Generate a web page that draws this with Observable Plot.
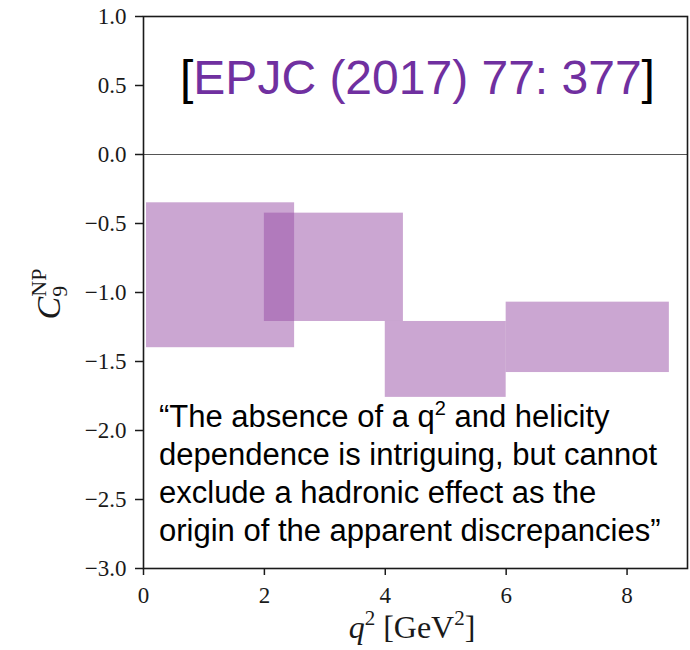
<!DOCTYPE html>
<html>
<head>
<meta charset="utf-8">
<script src="https://cdn.jsdelivr.net/npm/d3@7"></script>
<script src="https://cdn.jsdelivr.net/npm/@observablehq/plot@0.6"></script>
<style>
  body { margin: 0; background: #fff; }
  #chart svg { display: block; }
</style>
</head>
<body>
<div id="chart"></div>
<script>
// q² bins (GeV²) and the allowed C9^NP band in each bin
const binLow  = [0.05, 2.0, 4.0, 6.0];
const binHigh = [2.5, 4.3, 6.0, 8.7];
const c9Low   = [-1.40, -1.21, -1.76, -1.58];
const c9High  = [-0.35, -0.425, -1.21, -1.07];

// axis ticks
const xTicks = [0, 2, 4, 6, 8];
const yTicks = [-3, -2.5, -2, -1.5, -1, -0.5, 0, 0.5, 1];

// annotation text
const refText = "EPJC (2017) 77: 377";
const quoteLines = [
  "dependence is intriguing, but cannot",
  "exclude a hadronic effect as the",
  "origin of the apparent discrepancies\u201D"
];

const bins = binLow.map((lo, i) => ({lo, hi: binHigh[i], c9lo: c9Low[i], c9hi: c9High[i]}));

const chart = Plot.plot({
  width: 690,
  height: 650,
  marginLeft: 143,
  marginRight: 3,
  marginTop: 16,
  marginBottom: 82,
  x: {domain: [0, 9]},
  y: {domain: [-3, 1]},
  style: {fontFamily: "'Liberation Serif', 'DejaVu Serif', serif", fontSize: "23px", color: "#1a1a1a", background: "#fff"},
  marks: [
    Plot.rect(bins, {x1: "lo", x2: "hi", y1: "c9lo", y2: "c9hi", fill: "#974da5", fillOpacity: 0.5}),
    Plot.ruleY([0], {stroke: "#555", strokeWidth: 1}),
    Plot.frame({stroke: "#1a1a1a", strokeWidth: 1.6}),
    Plot.axisX({ticks: xTicks, tickSize: 7, tickPadding: 11, tickFormat: d3.format("d"), label: null, strokeWidth: 1.5}),
    Plot.axisY({ticks: yTicks, tickSize: 8, tickPadding: 9, tickFormat: d3.format(".1f"), label: null, strokeWidth: 1.5})
  ]
});

document.getElementById("chart").append(chart);

const svg = d3.select(chart);
const sans = "'Liberation Sans', Arial, sans-serif";
const serif = "'Liberation Serif', 'DejaVu Serif', serif";

// reference tag
const ref = svg.append("text")
  .attr("x", 180).attr("y", 94)
  .attr("text-anchor", "start")
  .attr("font-family", sans).attr("font-size", 48).attr("fill", "#000");
ref.append("tspan").text("[");
ref.append("tspan").attr("fill", "#7030a0").text(refText);
ref.append("tspan").text("]");

// quotation
const quote = svg.append("g")
  .attr("text-anchor", "start")
  .attr("font-family", sans).attr("font-size", 31).attr("fill", "#000");
const first = quote.append("text").attr("x", 159).attr("y", 427);
first.append("tspan").text("\u201CThe absence of a q");
first.append("tspan").attr("font-size", 20).attr("dy", -12).text("2");
first.append("tspan").attr("dy", 12).text(" and helicity");
quoteLines.forEach((line, i) => {
  quote.append("text").attr("x", 159).attr("y", 465 + 38 * i).text(line);
});

// x-axis label: q² [GeV²]
const xl = svg.append("text")
  .attr("x", 412).attr("y", 638)
  .attr("text-anchor", "middle")
  .attr("font-family", serif).attr("font-size", 32).attr("fill", "#1a1a1a");
xl.append("tspan").attr("font-style", "italic").text("q");
xl.append("tspan").attr("font-size", 21).attr("dy", -13).text("2");
xl.append("tspan").attr("dy", 13).text(" [GeV");
xl.append("tspan").attr("font-size", 21).attr("dy", -13).text("2");
xl.append("tspan").attr("dy", 13).text("]");

// y-axis label: C_9^NP
const yl = svg.append("text")
  .attr("transform", "translate(60,294) rotate(-90)")
  .attr("text-anchor", "middle")
  .attr("font-family", serif).attr("font-size", 34).attr("fill", "#1a1a1a");
yl.append("tspan").attr("font-style", "italic").text("C");
yl.append("tspan").attr("font-size", 22).attr("dy", 7).text("9");
yl.append("tspan").attr("font-size", 22).attr("dx", -11).attr("dy", -21).text("NP");
</script>
</body>
</html>
